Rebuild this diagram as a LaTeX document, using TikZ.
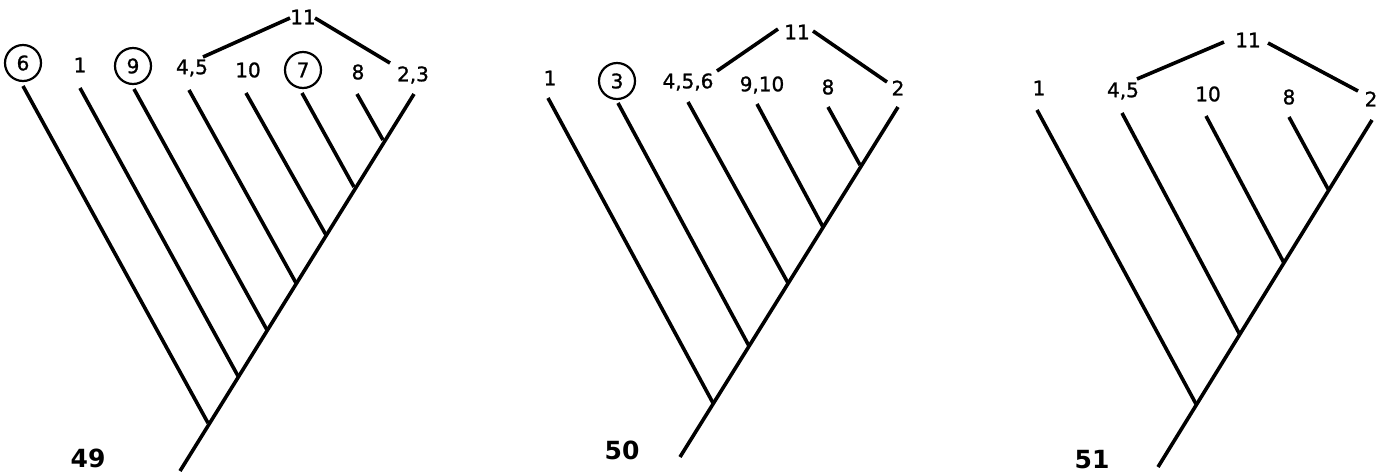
\documentclass[tikz,border=0pt]{standalone}
\usepackage{fontspec}
\setmainfont{DejaVu Sans}
\newfontfamily\labfont[FakeBold=1.2]{DejaVu Sans}
\begin{document}
\begin{tikzpicture}[x=1pt,y=-1pt,
  branch/.style={line width=3.6pt},
  lab/.style={font=\labfont\fontsize{20}{24}\selectfont, inner sep=0pt},
  circ/.style={lab, draw, circle, line width=2.2pt, minimum size=36pt},
  fig/.style={font=\bfseries\fontsize{25}{30}\selectfont, inner sep=0pt}]
\useasboundingbox (0,0) rectangle (1394,475);
% ---------- 49 ----------
\node[circ] (a6) at (23,63) {6};
\node[lab] (a1) at (80,65) {1};
\node[circ] (a9) at (133,66) {9};
\node[lab] (a45) at (192,68) {4,5};
\node[lab] (a10) at (248,70) {10};
\node[circ] (a7) at (303,70) {7};
\node[lab] (a8) at (358,72) {8};
\node[lab] (a23) at (413,75) {2,3};
\node[lab] (a11) at (303,17) {11};
\node[fig] (f49) at (88,458) {49};
\coordinate (t6) at (23,86);
\coordinate (t1) at (80,88);
\coordinate (t9) at (134,89);
\coordinate (t45) at (189,90);
\coordinate (t10) at (246,93);
\coordinate (t7) at (302,93);
\coordinate (t8) at (357,94);
\coordinate (t23) at (414,94);
\coordinate (j6) at (208,423);
\coordinate (j1) at (238,376);
\coordinate (j9) at (267,330);
\coordinate (j45) at (296,283);
\coordinate (j10) at (326,235);
\coordinate (j7) at (354,187);
\coordinate (j8) at (383,140);
\coordinate (r49) at (180,471);
\coordinate (s1) at (203,57);
\coordinate (s2) at (290,18);
\coordinate (s3) at (315,18);
\coordinate (s4) at (390,63);
\draw[branch] (r49) -- (t23);
\draw[branch] (t6) -- (j6);
\draw[branch] (t1) -- (j1);
\draw[branch] (t9) -- (j9);
\draw[branch] (t45) -- (j45);
\draw[branch] (t10) -- (j10);
\draw[branch] (t7) -- (j7);
\draw[branch] (t8) -- (j8);
\draw[branch] (s1) -- (s2);
\draw[branch] (s3) -- (s4);
% ---------- 50 ----------
\node[lab] (b1) at (550,78) {1};
\node[circ] (b3) at (617,81) {3};
\node[lab] (b456) at (688,82) {4,5,6};
\node[lab] (b910) at (762,85) {9,10};
\node[lab] (b8) at (828,87) {8};
\node[lab] (b2) at (898,88) {2};
\node[lab] (b11) at (797,32) {11};
\node[fig] (f50) at (622,450) {50};
\coordinate (u1) at (548,98);
\coordinate (u3) at (618,103);
\coordinate (u456) at (688,102);
\coordinate (u910) at (757,104);
\coordinate (u8) at (828,107);
\coordinate (u2) at (898,107);
\coordinate (k1) at (713,403);
\coordinate (k3) at (749,346);
\coordinate (k456) at (788,283);
\coordinate (k910) at (823,227);
\coordinate (k8) at (860,165);
\coordinate (r50) at (680,457);
\coordinate (v1) at (717,71);
\coordinate (v2) at (778,29);
\coordinate (v3) at (813,31);
\coordinate (v4) at (887,82);
\draw[branch] (r50) -- (u2);
\draw[branch] (u1) -- (k1);
\draw[branch] (u3) -- (k3);
\draw[branch] (u456) -- (k456);
\draw[branch] (u910) -- (k910);
\draw[branch] (u8) -- (k8);
\draw[branch] (v1) -- (v2);
\draw[branch] (v3) -- (v4);
% ---------- 51 ----------
\node[lab] (c1) at (1039,88) {1};
\node[lab] (c45) at (1123,91) {4,5};
\node[lab] (c10) at (1208,94) {10};
\node[lab] (c8) at (1289,97) {8};
\node[lab] (c2) at (1371,99) {2};
\node[lab] (c11) at (1248,40) {11};
\node[fig] (f51) at (1092,460) {51};
\coordinate (w1) at (1037,110);
\coordinate (w45) at (1122,113);
\coordinate (w10) at (1206,116);
\coordinate (w8) at (1289,117);
\coordinate (w2) at (1372,120);
\coordinate (m1) at (1196,404);
\coordinate (m45) at (1240,335);
\coordinate (m10) at (1284,263);
\coordinate (m8) at (1328,189);
\coordinate (r51) at (1158,467);
\coordinate (y1) at (1137,79);
\coordinate (y2) at (1224,42);
\coordinate (y3) at (1268,43);
\coordinate (y4) at (1358,91);
\draw[branch] (r51) -- (w2);
\draw[branch] (w1) -- (m1);
\draw[branch] (w45) -- (m45);
\draw[branch] (w10) -- (m10);
\draw[branch] (w8) -- (m8);
\draw[branch] (y1) -- (y2);
\draw[branch] (y3) -- (y4);
\end{tikzpicture}
\end{document}
